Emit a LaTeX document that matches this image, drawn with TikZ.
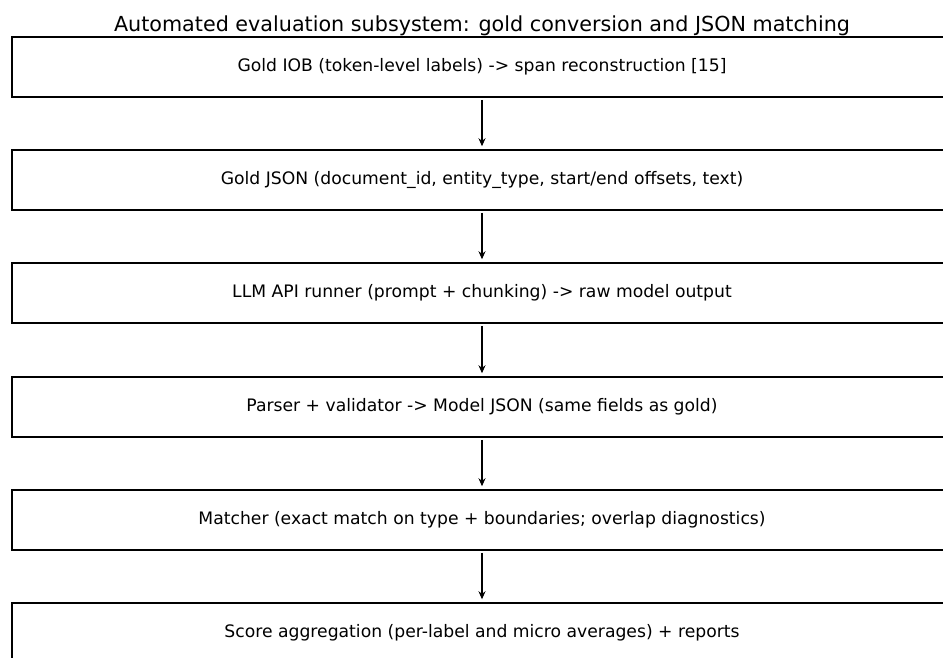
\documentclass[tikz,border=0pt]{standalone}
\usepackage{fontspec}
\setmainfont{DejaVu Sans}
\usetikzlibrary{arrows.meta}
\begin{document}
\begin{tikzpicture}[x=1pt,y=-1pt,
  stagebox/.style={draw=black,line width=1.5pt,minimum width=940pt,minimum height=60pt,inner sep=0pt,font=\fontsize{17.2}{20}\selectfont},
  flowarrow/.style={draw=black,line width=1.1pt,-{Stealth[length=8pt,width=7pt]}}]
\useasboundingbox (0,0) rectangle (943,657);
\clip (0,0) rectangle (943,657);
\fill[white] (0,0) rectangle (943,657);
\node[font=\fontsize{20.7}{24}\selectfont,anchor=base,inner sep=0pt] (title) at (482,31.5) {Automated evaluation subsystem: gold conversion and JSON matching};
\node[stagebox] (b1) at (482,67) {Gold IOB (token-level labels) -> span reconstruction [15]};
\node[stagebox] (b2) at (482,180) {Gold JSON (document\_id, entity\_type, start/end offsets, text)};
\node[stagebox] (b3) at (482,293) {LLM API runner (prompt + chunking) -> raw model output};
\node[stagebox] (b4) at (482,407) {Parser + validator -> Model JSON (same fields as gold)};
\node[stagebox] (b5) at (482,520) {Matcher (exact match on type + boundaries; overlap diagnostics)};
\node[stagebox] (b6) at (482,633) {Score aggregation (per-label and micro averages) + reports};
\foreach \a/\b in {b1/b2,b2/b3,b3/b4,b4/b5,b5/b6}
  \draw[flowarrow] ([yshift=-2pt]\a.south) -- ([yshift=3pt]\b.north);
\end{tikzpicture}
\end{document}
